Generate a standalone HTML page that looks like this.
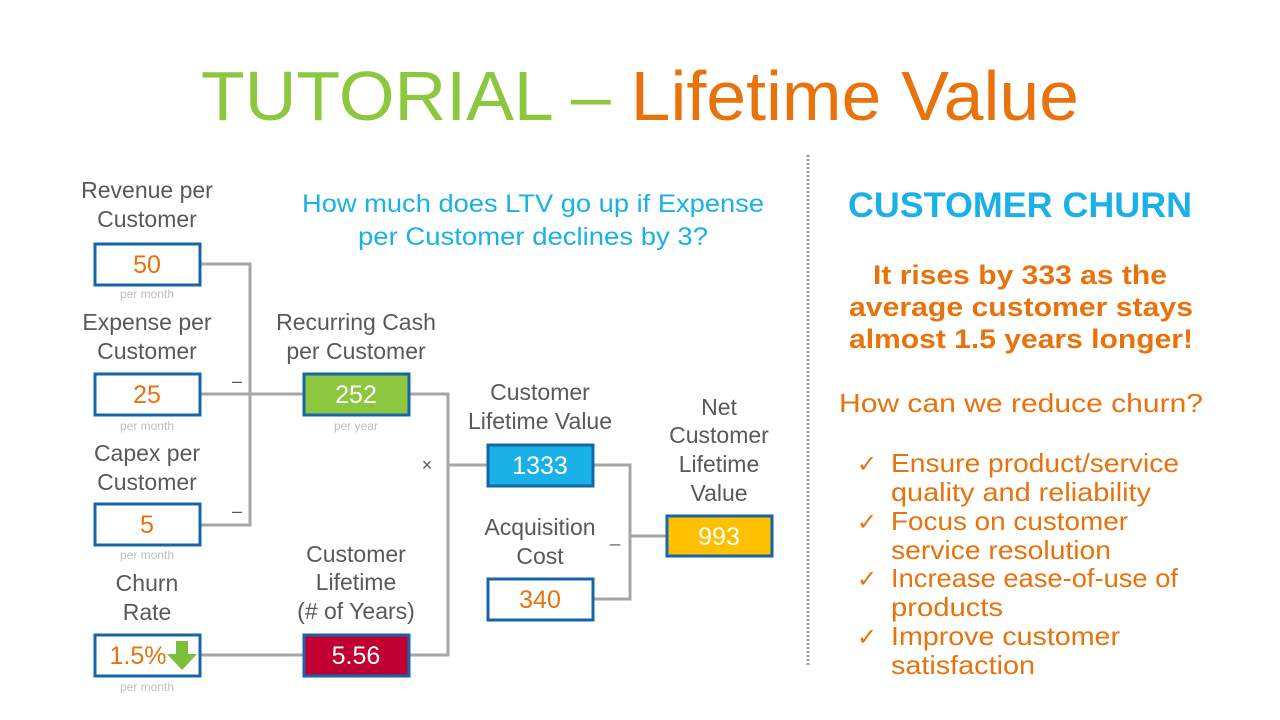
<!DOCTYPE html>
<html><head><meta charset="utf-8"><style>
html,body{margin:0;padding:0;background:#fff;}
svg{display:block;font-family:"Liberation Sans",sans-serif;}
</style></head><body>
<svg width="1280" height="720" viewBox="0 0 1280 720" xmlns="http://www.w3.org/2000/svg">
<text x="640" y="120" text-anchor="middle" font-size="70" textLength="878" lengthAdjust="spacingAndGlyphs"><tspan fill="#8dc63f">TUTORIAL – </tspan><tspan fill="#e8720c">Lifetime Value</tspan></text>

<g stroke="#a6a6a6" stroke-width="3" fill="none">
<polyline points="201,264 250,264 250,525 201,525"/>
<line x1="201" y1="394" x2="303" y2="394"/>
<polyline points="410,394 448,394 448,655 410,655"/>
<line x1="448" y1="465" x2="487" y2="465"/>
<polyline points="594,465 630,465 630,599 594,599"/>
<line x1="630" y1="536" x2="666" y2="536"/>
<line x1="201" y1="655" x2="303" y2="655"/>
</g>
<line x1="808" y1="155" x2="808" y2="665" stroke="#999" stroke-width="3" stroke-dasharray="2,2"/>

<g stroke="#1565a8" stroke-width="3">
<rect x="95" y="244" width="105" height="41" fill="#fff"/>
<rect x="95" y="374" width="105" height="41" fill="#fff"/>
<rect x="95" y="504" width="105" height="41" fill="#fff"/>
<rect x="95" y="635" width="105" height="41" fill="#fff"/>
<rect x="304" y="374" width="105" height="41" fill="#8dc63f"/>
<rect x="304" y="635" width="105" height="41" fill="#c00033"/>
<rect x="488" y="445" width="105" height="41" fill="#1ab0e8"/>
<rect x="488" y="579" width="105" height="41" fill="#fff"/>
<rect x="667" y="516" width="105" height="40" fill="#ffc000"/>
</g>
<polygon points="176,641 188,641 188,654 197,654 182,670 167,654 176,654" fill="#7cbf3a"/>

<g font-size="25" text-anchor="middle" fill="#e8720c">
<text x="147" y="273">50</text>
<text x="147" y="403">25</text>
<text x="147" y="533">5</text>
<text x="138" y="664">1.5%</text>
<text x="540" y="608">340</text>
</g>
<g font-size="25" text-anchor="middle" fill="#fff">
<text x="356" y="403">252</text>
<text x="356" y="664">5.56</text>
<text x="540" y="474">1333</text>
<text x="719" y="545">993</text>
</g>
<g font-size="12" text-anchor="middle" fill="#bfbfbf">
<text x="147" y="298">per month</text>
<text x="147" y="430">per month</text>
<text x="147" y="559">per month</text>
<text x="147" y="691">per month</text>
<text x="356" y="430">per year</text>
</g>
<g font-size="23" text-anchor="middle" fill="#595959">
<text x="147" y="198">Revenue per</text><text x="147" y="227">Customer</text>
<text x="147" y="330">Expense per</text><text x="147" y="359">Customer</text>
<text x="147" y="461">Capex per</text><text x="147" y="490">Customer</text>
<text x="147" y="591">Churn</text><text x="147" y="620">Rate</text>
<text x="356" y="330">Recurring Cash</text><text x="356" y="359">per Customer</text>
<text x="356" y="562">Customer</text><text x="356" y="590">Lifetime</text><text x="356" y="619">(# of Years)</text>
<text x="540" y="400">Customer</text><text x="540" y="429">Lifetime Value</text>
<text x="540" y="535">Acquisition</text><text x="540" y="564">Cost</text>
<text x="719" y="415">Net</text><text x="719" y="443">Customer</text><text x="719" y="472">Lifetime</text><text x="719" y="501">Value</text>
<text x="237" y="387" font-size="18">–</text>
<text x="237" y="517" font-size="18">–</text>
<text x="427" y="471" font-size="18">×</text>
<text x="615" y="542" font-size="18">_</text>
</g>
<g font-size="25" text-anchor="middle" fill="#1ab0e8">
<text x="533" y="212" textLength="462" lengthAdjust="spacingAndGlyphs">How much does LTV go up if Expense</text>
<text x="533" y="245" textLength="350" lengthAdjust="spacingAndGlyphs">per Customer declines by 3?</text>
<text x="1020" y="217" font-size="35" font-weight="bold" textLength="344" lengthAdjust="spacingAndGlyphs">CUSTOMER CHURN</text>
</g>
<g font-size="27" text-anchor="middle" fill="#e8720c" font-weight="bold">
<text x="1020" y="284" textLength="294" lengthAdjust="spacingAndGlyphs">It rises by 333 as the</text>
<text x="1021" y="316" textLength="344" lengthAdjust="spacingAndGlyphs">average customer stays</text>
<text x="1021" y="348" textLength="344" lengthAdjust="spacingAndGlyphs">almost 1.5 years longer!</text>
</g>
<text x="1021" y="412" font-size="26" text-anchor="middle" fill="#e8720c" textLength="364" lengthAdjust="spacingAndGlyphs">How can we reduce churn?</text>
<g font-size="26" fill="#e8720c">
<text x="857" y="472" font-size="24">✓</text>
<text x="891" y="472" textLength="288" lengthAdjust="spacingAndGlyphs">Ensure product/service</text>
<text x="891" y="501" textLength="260" lengthAdjust="spacingAndGlyphs">quality and reliability</text>
<text x="857" y="530" font-size="24">✓</text>
<text x="891" y="530" textLength="237" lengthAdjust="spacingAndGlyphs">Focus on customer</text>
<text x="891" y="559" textLength="220" lengthAdjust="spacingAndGlyphs">service resolution</text>
<text x="857" y="587" font-size="24">✓</text>
<text x="891" y="587" textLength="287" lengthAdjust="spacingAndGlyphs">Increase ease-of-use of</text>
<text x="891" y="616" textLength="112" lengthAdjust="spacingAndGlyphs">products</text>
<text x="857" y="645" font-size="24">✓</text>
<text x="891" y="645" textLength="229" lengthAdjust="spacingAndGlyphs">Improve customer</text>
<text x="891" y="674" textLength="144" lengthAdjust="spacingAndGlyphs">satisfaction</text>
</g>
</svg>
</body></html>
